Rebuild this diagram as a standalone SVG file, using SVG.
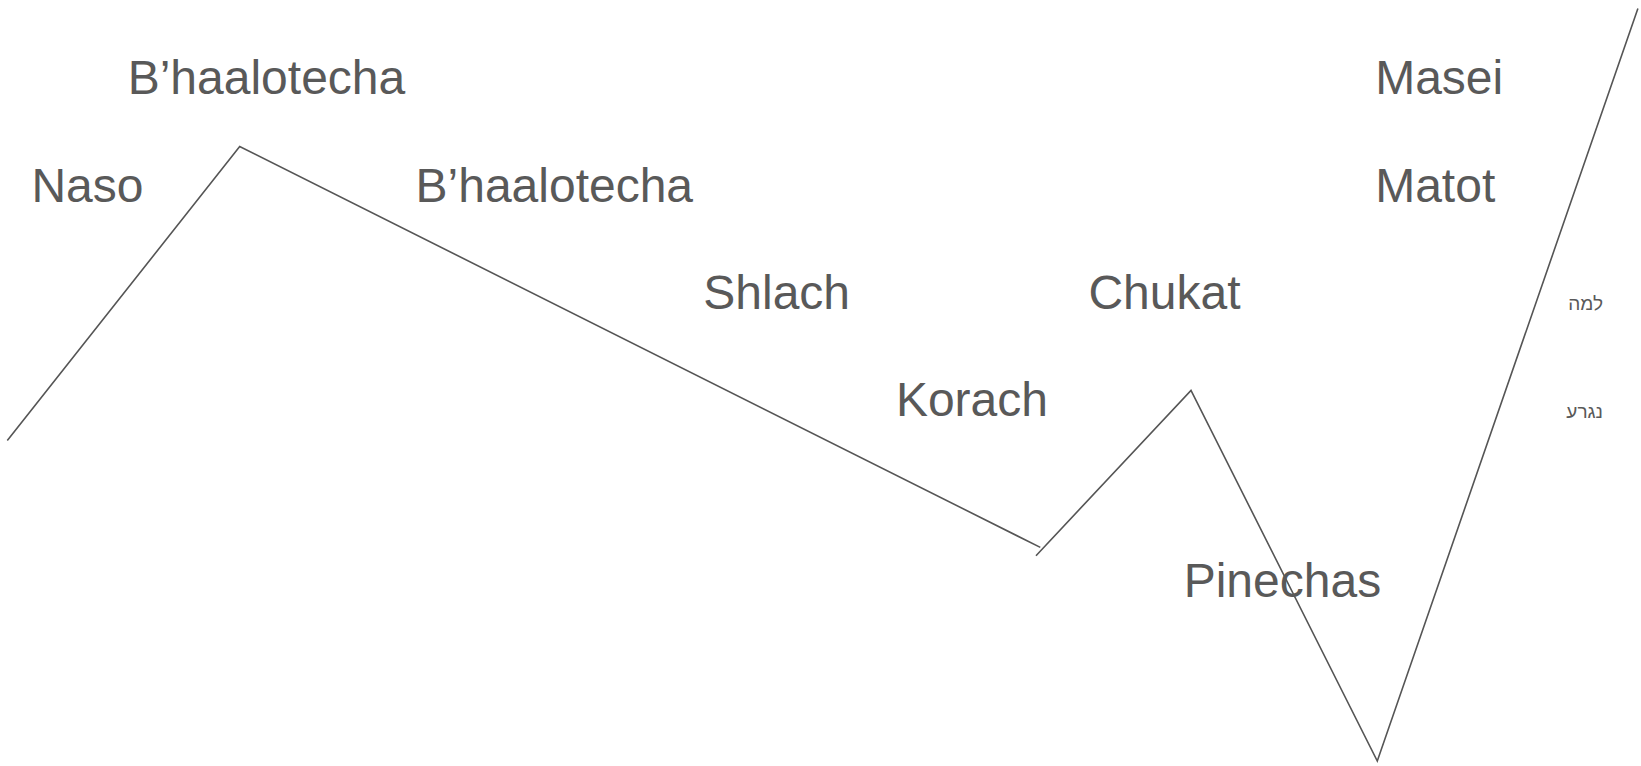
<svg xmlns="http://www.w3.org/2000/svg" width="1641" height="766" viewBox="0 0 1641 766">
<style>
.t{font-family:"Liberation Sans",Arial,sans-serif;font-size:48px;fill:#595959}
.h{font-family:"Liberation Sans","DejaVu Sans",sans-serif;font-size:19px;fill:#595959}
.c{fill:none;stroke:#555;stroke-width:1.6}
</style>
<rect width="1641" height="766" fill="#fff"/>
<g id="connectors">
<polyline class="c" points="7.3,440.6 239.7,146.5 1040.3,547.4"/>
<polyline class="c" points="1036,555.7 1191,390.4 1377.3,761 1637.9,8.4"/>
</g>
<g id="n-bhaalotecha1"><text class="t" x="127.7" y="94">B’haalotecha</text></g>
<g id="n-naso"><text class="t" x="31.4" y="201.5">Naso</text></g>
<g id="n-bhaalotecha2"><text class="t" x="415.5" y="201.5">B’haalotecha</text></g>
<g id="n-shlach"><text class="t" x="703.3" y="308.5">Shlach</text></g>
<g id="n-korach"><text class="t" x="895.9" y="416">Korach</text></g>
<g id="n-chukat"><text class="t" x="1088.4" y="308.5">Chukat</text></g>
<g id="n-pinechas"><text class="t" x="1183.7" y="596.5">Pinechas</text></g>
<g id="n-masei"><text class="t" x="1375.2" y="94">Masei</text></g>
<g id="n-matot"><text class="t" x="1375.2" y="201.5">Matot</text></g>
<g id="n-lama"><text class="h" x="1603" y="310" text-anchor="end">למה</text></g>
<g id="n-nigra"><text class="h" x="1603" y="418" text-anchor="end">נגרע</text></g>
</svg>
